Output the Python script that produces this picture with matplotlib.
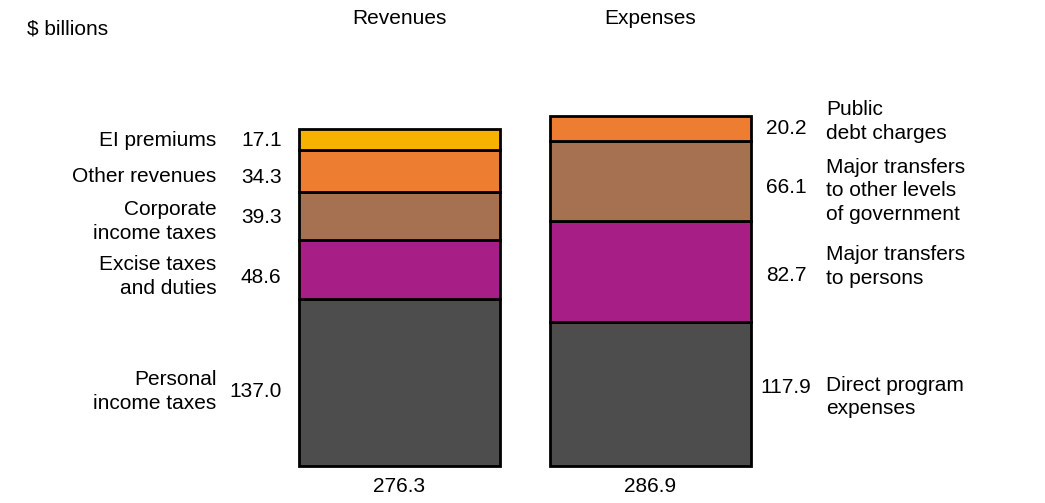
import matplotlib
matplotlib.use("Agg")
import matplotlib.pyplot as plt

plt.rcParams['font.family'] = ['Liberation Sans', 'DejaVu Sans']

# data ($ billions)
rev_labels = ["Personal\nincome taxes", "Excise taxes\nand duties",
              "Corporate\nincome taxes", "Other revenues", "EI premiums"]
rev_values = [137.0, 48.6, 39.3, 34.3, 17.1]
rev_total = 276.3

exp_labels = ["Direct program\nexpenses", "Major transfers\nto persons",
              "Major transfers\nto other levels\nof government",
              "Public\ndebt charges"]
exp_values = [117.9, 82.7, 66.1, 20.2]
exp_total = 286.9

rev_colors = ["#4d4d4d", "#a71e87", "#a57150", "#ed7d31", "#f7b200"]
exp_colors = ["#4d4d4d", "#a71e87", "#a57150", "#ed7d31"]

# hand placement of labels, pixels downward from the segment middle
rev_num_nudge = [9, 8, 2, 7, 1]
rev_lab_nudge = [9, 7, 6, 6, 1]
exp_num_nudge = [-7, 4, 7, 0]
exp_lab_nudge = [3, -5, 10, -7]

fs = 15
px = 1 / 1.22  # data units per pixel
fig = plt.figure(figsize=(10.45, 5.03), dpi=100)
ax = fig.add_axes([0, 0, 1, 1])
ax.set_xlim(-399.5 / 251, (1045 - 399.5) / 251)
ax.set_ylim(-37 * px, (503 - 37) * px)
ax.axis("off")

w = 0.8

def stack(x, values, colors):
    bottom = 0
    mids = []
    for v, c in zip(values, colors):
        ax.bar(x, v, width=w, bottom=bottom, color=c, edgecolor="black",
               linewidth=2)
        mids.append(bottom + v / 2)
        bottom += v
    return mids

rev_mids = stack(0, rev_values, rev_colors)
exp_mids = stack(1, exp_values, exp_colors)

# revenue labels (left side)
for lab, v, m, dn, dl in zip(rev_labels, rev_values, rev_mids,
                             rev_num_nudge, rev_lab_nudge):
    ax.text(-0.47, m - dn * px, f"{v:.1f}", ha="right", va="center", fontsize=fs)
    ax.text(-0.73, m - dl * px, lab, ha="right", va="center", fontsize=fs,
            multialignment="right", linespacing=1.36)

# expense labels (right side)
for lab, v, m, dn, dl in zip(exp_labels, exp_values, exp_mids,
                             exp_num_nudge, exp_lab_nudge):
    ax.text(1.54, m - dn * px, f"{v:.1f}", ha="center", va="center", fontsize=fs)
    ax.text(1.7, m - dl * px, lab, ha="left", va="center", fontsize=fs,
            linespacing=1.32)

# totals
ax.text(0, -20 * px, f"{rev_total:.1f}", ha="center", va="center", fontsize=fs)
ax.text(1, -20 * px, f"{exp_total:.1f}", ha="center", va="center", fontsize=fs)

fig.text(399.5 / 1045, 1 - 18 / 503, "Revenues", ha="center", va="center", fontsize=fs)
fig.text(650.5 / 1045, 1 - 18 / 503, "Expenses", ha="center", va="center", fontsize=fs)
fig.text(27 / 1045, 1 - 29 / 503, "$ billions", ha="left", va="center", fontsize=fs)

fig.savefig("out.png", dpi=100)
